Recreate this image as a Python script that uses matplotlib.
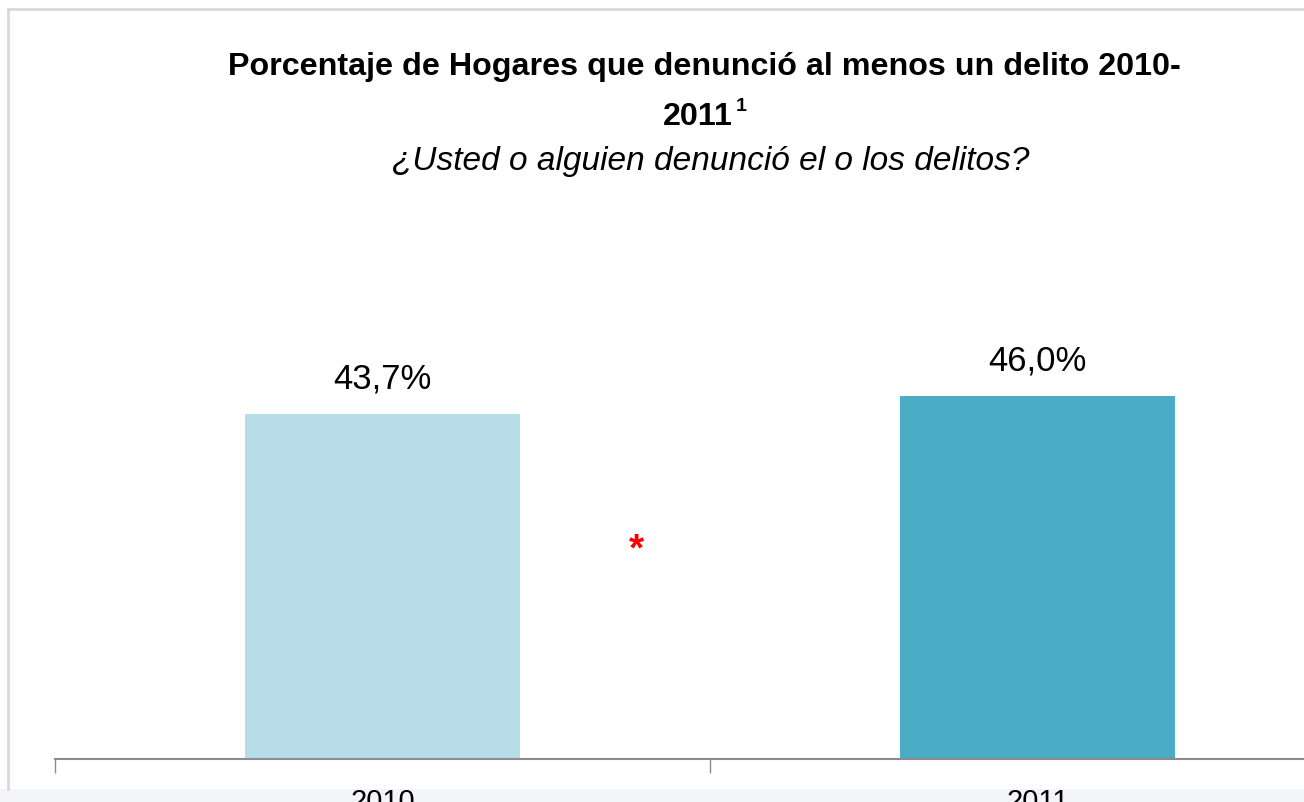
import matplotlib.pyplot as plt
from matplotlib.patches import Rectangle

# data
years = ['2010', '2011']
values = [43.7, 46.0]
labels = ['43,7%', '46,0%']
colors = ['#b7dde8', '#4bacc6']

plt.rcParams['font.family'] = ['Liberation Sans', 'DejaVu Sans']

fig = plt.figure(figsize=(13.04, 8.03), dpi=100)
W, H = 1304, 803

# light strip at the bottom and chart frame
fig.patches.append(Rectangle((0, 0), 1, 13 / H, transform=fig.transFigure,
                             facecolor='#f3f5f8', edgecolor='none', zorder=-1))
fig.add_artist(plt.Line2D([8 / W, 8 / W], [1 - 790 / H, 1 - 10 / H],
                          color='#d9d9d9', lw=2, transform=fig.transFigure))
fig.add_artist(plt.Line2D([8 / W, 1], [1 - 10 / H, 1 - 10 / H],
                          color='#d9d9d9', lw=2, transform=fig.transFigure))

# axes: x from -0.5 (px 55) to 1.5 (px 1365), y 0 at px 760, 7.89 px per unit
ax = fig.add_axes([55 / W, 1 - 760 / H, 1310 / W, 50 * 7.89 / H])
ax.set_zorder(2)
ax.set_xlim(-0.5, 1.5)
ax.set_ylim(0, 50)
ax.patch.set_alpha(0)

x = range(len(years))
ax.bar(x, values, width=0.42, color=colors, zorder=2)
for xi, v, lab in zip(x, values, labels):
    ax.annotate(lab, (xi, v), xytext=(0, 14), textcoords='offset points',
                ha='center', va='bottom', fontsize=25)

for s in ['top', 'right', 'left']:
    ax.spines[s].set_visible(False)
ax.spines['bottom'].set_color('#8c8c8c')
ax.spines['bottom'].set_linewidth(1.5)
ax.set_yticks([])
ax.set_xticks([-0.5, 0.5, 1.5])
ax.set_xticklabels([])
ax.set_xticks(list(x), years, minor=True)
ax.tick_params(axis='x', which='major', length=10, color='#8c8c8c', width=1)
ax.tick_params(axis='x', which='minor', length=0, labelsize=21, pad=20)

# red asterisk between bars
ax.text(0.387, 26.5, '*', color='#ff0000', fontsize=28, fontweight='bold',
        ha='center', va='center')

# titles
fig.text(704 / W, 1 - 75 / H, 'Porcentaje de Hogares que denunció al menos un delito 2010-',
         ha='center', va='baseline', fontsize=23.2, fontweight='bold')
fig.text(698 / W, 1 - 125 / H, '2011', ha='center', va='baseline',
         fontsize=23.2, fontweight='bold')
fig.text(736 / W, 1 - 111 / H, '1', ha='left', va='baseline',
         fontsize=14, fontweight='bold')
fig.text(711 / W, 1 - 170 / H, '¿Usted o alguien denunció el o los delitos?',
         ha='center', va='baseline', fontsize=24, style='italic')

fig.savefig('out.png', dpi=100)
